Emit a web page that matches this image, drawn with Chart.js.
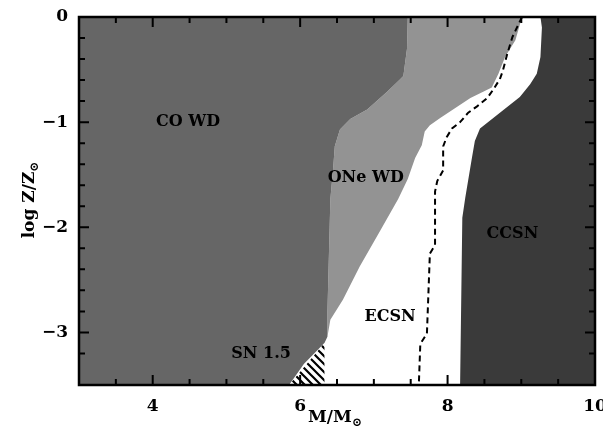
<!DOCTYPE html>
<html>
<head>
<meta charset="utf-8">
<script src="https://cdn.jsdelivr.net/npm/chart.js@4.4.1/dist/chart.umd.min.js"></script>
<style>
  html, body { margin: 0; padding: 0; background: #fff; }
</style>
</head>
<body>
<canvas id="fateChart" width="603" height="433"></canvas>
<script>
// boundary CO WD | ONe WD (mass, log Z), top to bottom
const coOneM = [7.46, 7.45, 7.40, 7.36, 7.18, 6.91, 6.68, 6.54, 6.47, 6.45, 6.41, 6.37, 6.37];
const coOneZ = [0, -0.30, -0.56, -0.59, -0.71, -0.88, -0.97, -1.07, -1.23, -1.42, -1.73, -2.81, -3.04];
// lower edge of CO WD next to the SN 1.5 wedge
const coTailM = [6.33, 6.05, 5.85];
const coTailZ = [-3.10, -3.30, -3.50];
// boundary ONe WD | ECSN, top to bottom
const oneEcM = [9.01, 8.92, 8.78, 8.69, 8.60, 8.31, 7.90, 7.76, 7.69, 7.65, 7.56, 7.46, 7.33, 7.08, 6.81, 6.58, 6.41, 6.37];
const oneEcZ = [0, -0.22, -0.38, -0.54, -0.67, -0.77, -0.96, -1.03, -1.09, -1.22, -1.34, -1.54, -1.73, -2.04, -2.37, -2.69, -2.88, -3.04];
// boundary ECSN | CCSN, top to bottom
const ecCcM = [9.26, 9.28, 9.26, 9.21, 9.12, 8.98, 8.62, 8.44, 8.37, 8.33, 8.24, 8.20, 8.17];
const ecCcZ = [0, -0.10, -0.38, -0.54, -0.64, -0.76, -0.96, -1.06, -1.18, -1.34, -1.72, -1.91, -3.50];
// SN 1.5 wedge
const sn15M = [6.33, 5.85, 6.33];
const sn15Z = [-3.10, -3.50, -3.50];
// dashed line
const dashM = [9.01, 8.88, 8.81, 8.75, 8.71, 8.62, 8.54, 8.40, 8.28, 8.17, 8.06, 7.99, 7.94, 7.94, 7.86, 7.83, 7.83, 7.76, 7.72, 7.63, 7.61];
const dashZ = [0, -0.19, -0.35, -0.51, -0.59, -0.69, -0.77, -0.85, -0.91, -1.00, -1.06, -1.14, -1.23, -1.46, -1.56, -1.66, -2.17, -2.25, -3.01, -3.11, -3.50];

const massMin = 3, massMax = 10;
const zMin = -3.5, zMax = 0;

// region names and where they sit (mass, log Z)
const regionNames = ["CO WD", "ONe WD", "ECSN", "CCSN", "SN 1.5"];
const regionM = [4.48, 6.89, 7.22, 8.88, 5.47];
const regionZ = [-1.0, -1.53, -2.85, -2.06, -3.2];

const FONT = "'DejaVu Serif', serif";

const pts = (ms, zs) => ms.map((m, i) => ({ x: m, y: zs[i] }));

// closed shapes for each region
const coShape = [{ x: massMin, y: zMax }]
  .concat(pts(coOneM, coOneZ), pts(coTailM, coTailZ), [{ x: massMin, y: zMin }]);
const oneShape = pts(coOneM, coOneZ).concat(pts(oneEcM, oneEcZ).reverse());
const ccShape = pts(ecCcM, ecCcZ).concat([{ x: massMax, y: zMin }, { x: massMax, y: zMax }]);

// hatch for the SN 1.5 wedge
const makeHatch = () => {
  const c = document.createElement("canvas");
  c.width = 8; c.height = 8;
  const g = c.getContext("2d");
  g.fillStyle = "#fff";
  g.fillRect(0, 0, 8, 8);
  g.strokeStyle = "#000";
  g.lineWidth = 2.2;
  g.beginPath();
  g.moveTo(-1, -1); g.lineTo(9, 9);
  g.moveTo(-1, 7); g.lineTo(1, 9);
  g.moveTo(7, -1); g.lineTo(9, 1);
  g.stroke();
  return g.createPattern(c, "repeat");
};

const shapeSet = (data, color) => ({
  data: data,
  fill: "shape",
  backgroundColor: color,
  borderWidth: 0,
  pointRadius: 0,
});

// inside ticks, frame, region names, axis titles
const decor = {
  id: "decor",
  afterDraw(chart) {
    const { ctx, chartArea: a, scales: { x, y } } = chart;
    ctx.save();
    ctx.setLineDash([]);
    ctx.strokeStyle = "#000";
    ctx.lineWidth = 2;
    ctx.beginPath();
    x.ticks.forEach((t) => {
      const px = x.getPixelForValue(t.value);
      const len = t.value % 2 === 0 ? 10 : 6;
      ctx.moveTo(px, a.bottom); ctx.lineTo(px, a.bottom - len);
      ctx.moveTo(px, a.top); ctx.lineTo(px, a.top + len);
    });
    y.ticks.forEach((t) => {
      const py = y.getPixelForValue(t.value);
      const len = Math.abs(t.value - Math.round(t.value)) < 1e-6 ? 10 : 6;
      ctx.moveTo(a.left, py); ctx.lineTo(a.left + len, py);
      ctx.moveTo(a.right, py); ctx.lineTo(a.right - len, py);
    });
    ctx.stroke();

    ctx.lineWidth = 2.5;
    ctx.strokeRect(a.left, a.top, a.right - a.left, a.bottom - a.top);

    ctx.fillStyle = "#000";
    ctx.font = "bold 16px " + FONT;
    ctx.textAlign = "center";
    ctx.textBaseline = "middle";
    regionNames.forEach((name, i) => {
      ctx.fillText(name, x.getPixelForValue(regionM[i]), y.getPixelForValue(regionZ[i]));
    });

    // text with a sun subscript, centred on (cx, cy)
    const subText = (main, cx, cy) => {
      ctx.font = "bold 17px " + FONT;
      const w1 = ctx.measureText(main).width;
      ctx.font = "bold 12px " + FONT;
      const w2 = ctx.measureText("\u2299").width;
      const left = cx - (w1 + w2) / 2;
      ctx.textAlign = "left";
      ctx.font = "bold 17px " + FONT;
      ctx.fillText(main, left, cy);
      ctx.font = "bold 12px " + FONT;
      ctx.fillText("\u2299", left + w1, cy + 5);
    };
    subText("M/M", 335, 418);
    ctx.save();
    ctx.translate(30, 200);
    ctx.rotate(-Math.PI / 2);
    subText("log Z/Z", 0, 0);
    ctx.restore();
    ctx.restore();
  },
};

const minus = (v) => (v < 0 ? "\u2212" + Math.abs(v) : String(v));

new Chart(document.getElementById("fateChart"), {
  type: "line",
  data: {
    datasets: [
      {
        data: pts(dashM, dashZ),
        fill: false,
        borderColor: "#000",
        borderWidth: 2,
        borderDash: [6, 4],
        pointRadius: 0,
      },
      shapeSet(pts(sn15M, sn15Z), makeHatch()),
      shapeSet(coShape, "#666666"),
      shapeSet(oneShape, "#939393"),
      shapeSet(ccShape, "#3a3a3a"),
    ],
  },
  options: {
    responsive: false,
    animation: false,
    devicePixelRatio: 1,
    layout: { padding: { top: 17, right: 8, left: 0, bottom: 0 } },
    plugins: { legend: { display: false }, tooltip: { enabled: false } },
    elements: { line: { tension: 0 } },
    scales: {
      x: {
        type: "linear",
        min: massMin,
        max: massMax,
        grid: { display: false, drawTicks: false },
        border: { display: false },
        ticks: {
          stepSize: 0.5,
          autoSkip: false,
          maxRotation: 0,
          padding: 11,
          color: "#000",
          font: { family: FONT, size: 17, weight: "bold" },
          callback: (v) => (v % 2 === 0 ? String(v) : ""),
        },
        afterFit: (s) => { s.height = 48; s.paddingLeft = 0; s.paddingRight = 0; },
      },
      y: {
        type: "linear",
        min: zMin,
        max: zMax,
        grid: { display: false, drawTicks: false },
        border: { display: false },
        ticks: {
          stepSize: 0.2,
          autoSkip: false,
          padding: 11,
          color: "#000",
          font: { family: FONT, size: 17, weight: "bold" },
          callback: (v) => {
            const r = Math.round(v);
            return Math.abs(v - r) < 1e-6 ? minus(r) : "";
          },
        },
        afterFit: (s) => { s.width = 79; s.paddingTop = 0; s.paddingBottom = 0; },
      },
    },
  },
  plugins: [decor],
});
</script>
</body>
</html>
